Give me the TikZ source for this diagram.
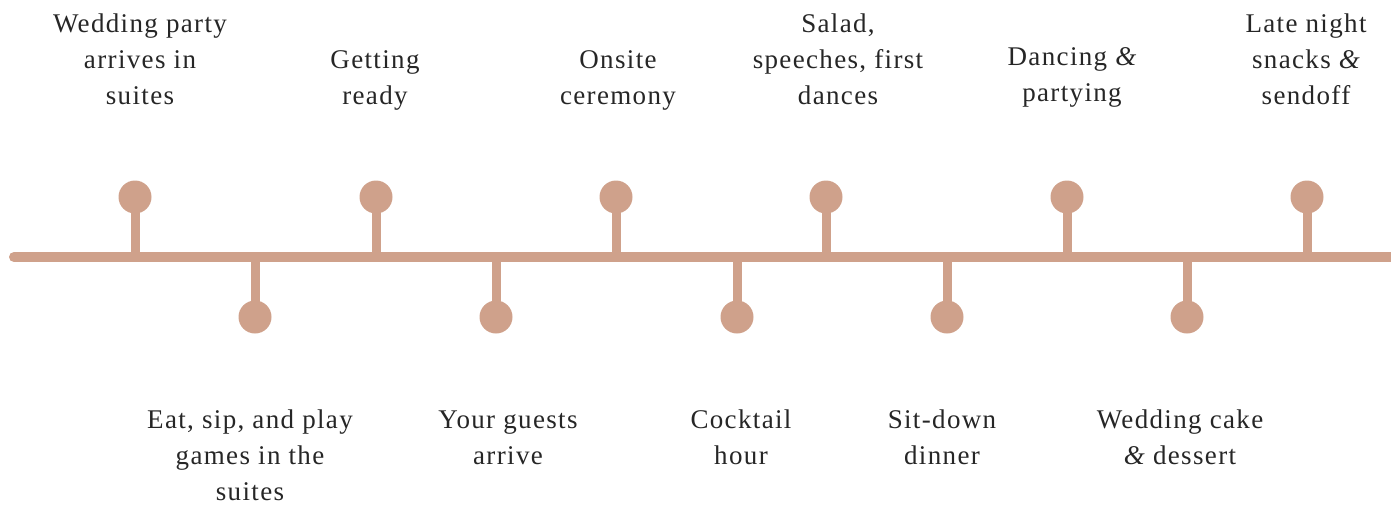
\documentclass[tikz,border=0pt]{standalone}
\usepackage{fontspec}
\setmainfont{Liberation Serif}[LetterSpace=5]
\definecolor{tan}{RGB}{207,161,139}
\definecolor{ink}{RGB}{38,38,38}
\newcommand{\amp}{{\itshape\&}}
\begin{document}
\begin{tikzpicture}[x=1pt,y=-1pt,
  bar/.style={draw=tan,line width=10pt,line cap=round},
  stem/.style={draw=tan,line width=9pt},
  dot/.style={circle,fill=tan,minimum size=33pt,inner sep=0pt},
  lbl/.style={text=ink,align=center,inner sep=0pt,
    font=\fontsize{27}{36}\selectfont}]
\useasboundingbox (0,0) rectangle (1391,504);
% main bar
\coordinate (L) at (14,257);
\coordinate (R) at (1400,257);
\draw[bar] (L) -- (R);
% events above the bar
\foreach \n/\x in {a/135,c/376,e/616,g/826,i/1067,k/1307}{
  \coordinate (\n0) at (\x,257);
  \node[dot] (\n) at (\x,197) {};
  \draw[stem] (\n.center) -- (\n0);
}
% events below the bar
\foreach \n/\x in {b/255,d/496,f/737,h/947,j/1187}{
  \coordinate (\n0) at (\x,257);
  \node[dot] (\n) at (\x,317) {};
  \draw[stem] (\n0) -- (\n.center);
}
% labels above
\node[lbl,anchor=south] (ta) at (140,115) {Wedding party\\arrives in\\suites\strut};
\node[lbl,anchor=south] (tc) at (375,115) {Getting\\ready\strut};
\node[lbl,anchor=south] (te) at (618,115) {Onsite\\ceremony\strut};
\node[lbl,anchor=south] (tg) at (838,115) {Salad,\\speeches, first\\dances\strut};
\node[lbl,anchor=south] (ti) at (1072,112) {Dancing \amp\\partying\strut};
\node[lbl,anchor=south] (tk) at (1306,115) {Late night\\snacks \amp\\sendoff\strut};
% labels below
\node[lbl,anchor=north] (tb) at (250,403) {\strut Eat, sip, and play\\games in the\\suites};
\node[lbl,anchor=north] (td) at (508,403) {\strut Your guests\\arrive};
\node[lbl,anchor=north] (tf) at (741,403) {\strut Cocktail\\hour};
\node[lbl,anchor=north] (th) at (942,403) {\strut Sit-down\\dinner};
\node[lbl,anchor=north] (tj) at (1180,403) {\strut Wedding cake\\\amp{} dessert};
\end{tikzpicture}
\end{document}
